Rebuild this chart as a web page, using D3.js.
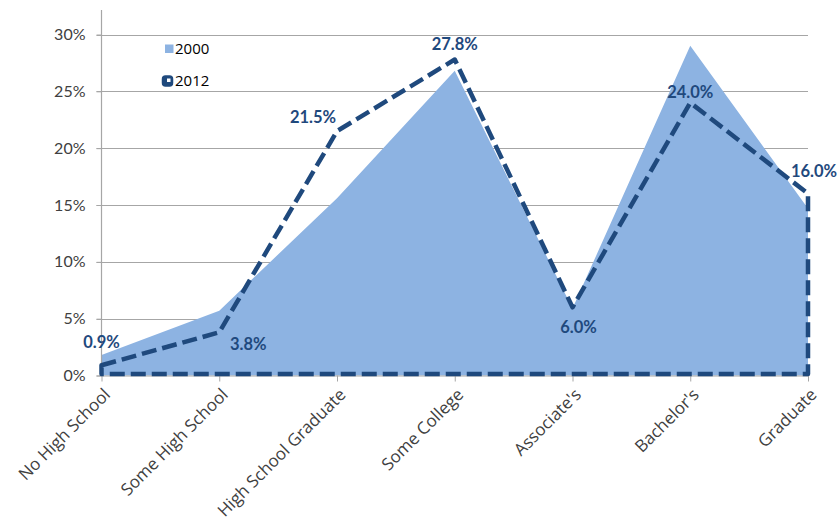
<!DOCTYPE html>
<html>
<head>
<meta charset="utf-8">
<script src="https://cdn.jsdelivr.net/npm/d3@7"></script>
<style>
  html, body { margin: 0; padding: 0; background: #fff; }
  svg { display: block; }
</style>
</head>
<body>
<svg id="chart" width="837" height="521"></svg>
<script>
// Educational attainment shares, 2000 vs 2012
const categories = ["No High School", "Some High School", "High School Graduate", "Some College", "Associate's", "Bachelor's", "Graduate"];
const share2000 = [1.8, 5.7, 15.6, 26.8, 5.9, 29.0, 14.7];
const share2012 = [0.9, 3.8, 21.5, 27.8, 6.0, 24.0, 16.0];
const yTicks = [0, 5, 10, 15, 20, 25, 30];
const seriesNames = ["2000", "2012"];

const svg = d3.select("#chart");
const plot = { left: 101.5, right: 808, top: 34.5, bottom: 375.5, axisTop: 10 };

const x = d3.scalePoint().domain(categories).range([plot.left, plot.right]);
const y = d3.scaleLinear().domain([0, 30]).range([plot.bottom, plot.top]);

const lightBlue = "#8db3e2";
const darkBlue = "#1f497d";
const gridGray = "#a6a6a6";
const textGray = "#404040";

// Horizontal gridlines
svg.append("g")
  .selectAll("line")
  .data(yTicks.filter(d => d > 0))
  .join("line")
  .attr("x1", plot.left - 5).attr("x2", plot.right)
  .attr("y1", d => Math.round(y(d)) + 0.5).attr("y2", d => Math.round(y(d)) + 0.5)
  .attr("stroke", gridGray).attr("stroke-width", 1);

// 2000 filled area
const rows = categories.map((c, i) => ({ c, a: share2000[i], b: share2012[i] }));
svg.append("path")
  .datum(rows)
  .attr("fill", lightBlue)
  .attr("d", d3.area().x(d => x(d.c)).y0(y(0)).y1(d => y(d.a)));

// Y axis
const yAxis = svg.append("g")
  .attr("transform", `translate(${plot.left},0)`)
  .call(d3.axisLeft(y).tickValues(yTicks).tickFormat(d => d + "%").tickSizeInner(5).tickSizeOuter(0).tickPadding(11));
yAxis.select(".domain").remove();
yAxis.selectAll(".tick line").attr("stroke", gridGray);
yAxis.selectAll("text")
  .attr("fill", textGray)
  .style("font-family", "Lato, 'Open Sans', sans-serif")
  .style("font-size", "16px");
svg.append("line")
  .attr("x1", plot.left).attr("x2", plot.left)
  .attr("y1", plot.axisTop).attr("y2", y(0))
  .attr("stroke", gridGray).attr("stroke-width", 1.2);

// X axis
const xAxis = svg.append("g")
  .attr("transform", `translate(0,${y(0)})`)
  .call(d3.axisBottom(x).tickSizeInner(6).tickSizeOuter(0).tickPadding(0));
xAxis.select(".domain").attr("stroke", gridGray).attr("d", `M${plot.left - 5},0.5H${plot.right}`);
xAxis.selectAll(".tick line").attr("stroke", gridGray);
xAxis.selectAll("text")
  .attr("x", 0).attr("y", 0).attr("dy", "0.35em")
  .attr("transform", "translate(5,16) rotate(-45)")
  .style("text-anchor", "end")
  .attr("fill", textGray)
  .style("font-family", "'Open Sans', Lato, sans-serif")
  .style("font-weight", "400")
  .style("font-size", "17px");

// 2012 outline (dashed, unfilled area)
const outline = d3.area().x(d => x(d.c)).y0(y(0) - 1.5).y1(d => y(d.b));
svg.append("path")
  .datum(rows)
  .attr("fill", "none")
  .attr("stroke", darkBlue)
  .attr("stroke-width", 4.5)
  .attr("stroke-dasharray", "15,6")
  .attr("stroke-linejoin", "round")
  .attr("d", outline);

// Value labels for 2012
const labelOffsets = [[0, -17], [29, 18], [-24, -8], [0, -9.5], [6, 26], [0, -5], [6, -17]];
svg.append("g")
  .selectAll("text")
  .data(rows)
  .join("text")
  .attr("x", (d, i) => x(d.c) + labelOffsets[i][0])
  .attr("y", (d, i) => y(d.b) + labelOffsets[i][1])
  .attr("text-anchor", "middle")
  .attr("fill", darkBlue)
  .style("font-family", "Lato, sans-serif")
  .style("font-weight", "700")
  .style("font-size", "16.5px")
  .text(d => d.b.toFixed(1) + "%");

// Legend
const legend = svg.append("g").style("font-family", "'Open Sans', 'Liberation Sans', sans-serif").style("font-size", "15px");
legend.append("rect").attr("x", 165).attr("y", 44.5).attr("width", 8.5).attr("height", 8.5).attr("fill", lightBlue);
legend.append("text").attr("x", 175).attr("y", 54).attr("fill", "#000").text(seriesNames[0]);
legend.append("rect").attr("x", 163.5).attr("y", 77).attr("width", 8).attr("height", 8)
  .attr("fill", darkBlue).attr("stroke", darkBlue).attr("stroke-width", 3.5).attr("rx", 2);
legend.append("rect").attr("x", 167).attr("y", 78.5).attr("width", 3.5).attr("height", 3.5).attr("fill", "#fff");
legend.append("text").attr("x", 175).attr("y", 85.5).attr("fill", "#000").text(seriesNames[1]);
</script>
</body>
</html>
